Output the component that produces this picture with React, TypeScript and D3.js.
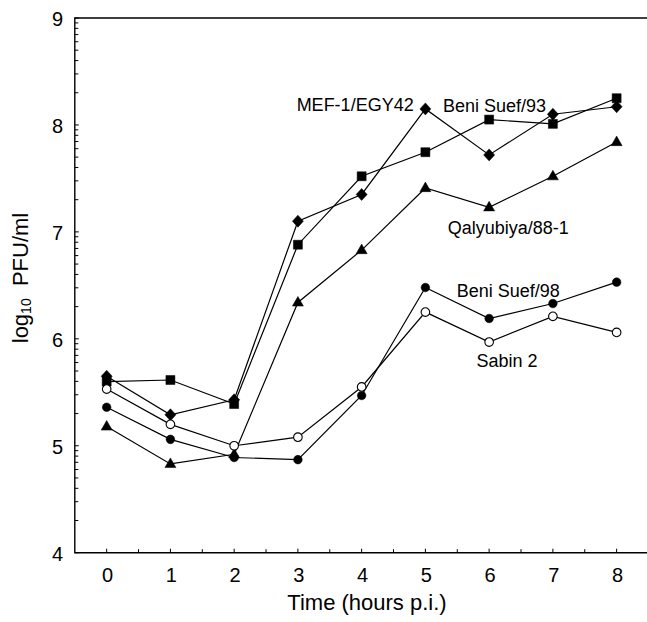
import React from "react";
import * as d3 from "d3";

const hours = [0, 1, 2, 3, 4, 5, 6, 7, 8];
const mefValues = [5.65, 5.29, 5.43, 7.1, 7.35, 8.15, 7.72, 8.1, 8.17];
const beniSuef93Values = [5.6, 5.615, 5.39, 6.88, 7.52, 7.745, 8.05, 8.01, 8.25];
const qalyubiyaValues = [5.18, 4.83, 4.92, 6.34, 6.83, 7.41, 7.23, 7.52, 7.84];
const beniSuef98Values = [5.36, 5.06, 4.89, 4.87, 5.47, 6.48, 6.19, 6.33, 6.53];
const sabin2Values = [5.53, 5.2, 5.0, 5.08, 5.55, 6.25, 5.97, 6.21, 6.06];

const xTicks = [0, 1, 2, 3, 4, 5, 6, 7, 8];
const yTicks = [4, 5, 6, 7, 8, 9];

const seriesList = [
  { name: "MEF-1/EGY42", values: mefValues, marker: "diamond" },
  { name: "Beni Suef/93", values: beniSuef93Values, marker: "square" },
  { name: "Qalyubiya/88-1", values: qalyubiyaValues, marker: "triangle" },
  { name: "Beni Suef/98", values: beniSuef98Values, marker: "circle" },
  { name: "Sabin 2", values: sabin2Values, marker: "openCircle" },
];

const labelTexts = ["MEF-1/EGY42", "Beni Suef/93", "Qalyubiya/88-1", "Beni Suef/98", "Sabin 2"];
const labelAnchors = [
  [2.98, 8.19],
  [5.275, 8.18],
  [5.35, 7.04],
  [5.49, 6.45],
  [5.8, 5.79],
];

const W = 647;
const H = 622;
const FONT = "'Liberation Sans', Arial, Helvetica, sans-serif";

function markerPath(kind: string): string {
  switch (kind) {
    case "diamond":
      return "M0,-6L5.5,0L0,6L-5.5,0Z";
    case "square":
      return "M-4.5,-4.5H4.5V4.5H-4.5Z";
    case "triangle":
      return "M0,-6L5.5,3.6L-5.5,3.6Z";
    default:
      return d3.symbol().type(d3.symbolCircle).size(Math.PI * 4.3 * 4.3)() || "";
  }
}

export default function App() {
  const x = d3.scaleLinear().domain([-0.5, 8.5]).range([74.8, 648.5]);
  const y = d3.scaleLinear().domain([4, 9]).range([552.7, 18]);

  const line = d3
    .line<number>()
    .x((_, i) => x(hours[i]))
    .y((v) => y(v));

  const minorY: number[] = [];
  for (let d = 4; d < 9; d++) {
    for (let k = 2; k <= 9; k++) minorY.push(d + Math.log10(k));
  }
  const minorX = d3.range(-0.5, 8.6, 0.5).filter((v) => !xTicks.includes(v) && v > -0.5 && v < 8.5);

  const x0 = x(-0.5);
  const x1 = x(8.5);
  const yb = y(4);
  const yt = y(9);

  return (
    <svg
      width={W}
      height={H}
      style={{ position: "absolute", left: 0, top: 0, background: "#fff" }}
      fontFamily={FONT}
    >
      <rect x={0} y={0} width={W} height={H} fill="#fff" />
      {/* frame */}
      <path d={`M${x1},${yt}H${x0}V${yb}H${x1}`} fill="none" stroke="#000" strokeWidth={1.4} />
      {/* y ticks */}
      {yTicks.map((t) => (
        <line key={"yt" + t} x1={x0} x2={x0 + 4} y1={y(t)} y2={y(t)} stroke="#000" strokeWidth={1} />
      ))}
      {minorY.map((t, i) => (
        <line key={"ym" + i} x1={x0} x2={x0 + 3.5} y1={y(t)} y2={y(t)} stroke="#000" strokeWidth={1} />
      ))}
      {yTicks.map((t) => (
        <text
          key={"yl" + t}
          x={63}
          y={y(t) + 1}
          textAnchor="end"
          dominantBaseline="central"
          fontSize={20}
          fill="#000"
        >
          {t}
        </text>
      ))}
      {/* x ticks */}
      {xTicks.map((t) => (
        <line key={"xt" + t} x1={x(t)} x2={x(t)} y1={yb} y2={yb - 4} stroke="#000" strokeWidth={1} />
      ))}
      {minorX.map((t, i) => (
        <line key={"xm" + i} x1={x(t)} x2={x(t)} y1={yb} y2={yb - 3.5} stroke="#000" strokeWidth={1} />
      ))}
      {xTicks.map((t) => (
        <text
          key={"xl" + t}
          x={x(t) + 1}
          y={575}
          textAnchor="middle"
          dominantBaseline="central"
          fontSize={20}
          fill="#000"
        >
          {t}
        </text>
      ))}
      {/* axis titles */}
      <text x={367} y={602} textAnchor="middle" dominantBaseline="central" fontSize={22} fill="#000">
        Time (hours p.i.)
      </text>
      <text
        transform={`translate(20,278) rotate(-90)`}
        textAnchor="middle"
        dominantBaseline="central"
        fontSize={22}
        fill="#000"
      >
        log
        <tspan fontSize={14} dy={6}>10</tspan>
        <tspan dy={-6}>{"\u00a0 PFU/ml"}</tspan>
      </text>
      {/* series */}
      {seriesList.map((s) => (
        <g key={s.name}>
          <path d={line(s.values) || ""} fill="none" stroke="#000" strokeWidth={1.2} />
          {s.values.map((v, i) => (
            <path
              key={i}
              d={markerPath(s.marker)}
              transform={`translate(${x(hours[i])},${y(v)})`}
              fill={s.marker === "openCircle" ? "#fff" : "#000"}
              stroke="#000"
              strokeWidth={s.marker === "openCircle" ? 1.1 : 0.5}
            />
          ))}
        </g>
      ))}
      {/* labels */}
      {labelTexts.map((t, i) => (
        <text
          key={t}
          x={x(labelAnchors[i][0])}
          y={y(labelAnchors[i][1])}
          dominantBaseline="central"
          fontSize={18}
          fill="#000"
        >
          {t}
        </text>
      ))}
    </svg>
  );
}
